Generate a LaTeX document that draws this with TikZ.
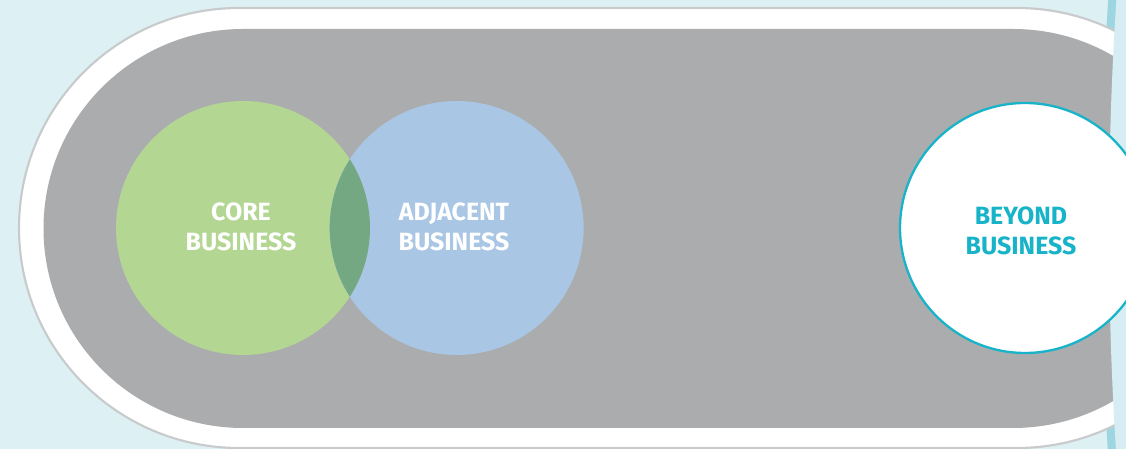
\documentclass[tikz,border=0pt]{standalone}
\usepackage{fontspec}
\usepackage{xcolor}
\usepackage{tikz}
\usetikzlibrary{positioning}
\newfontfamily\bubblefont{Fira Sans}

\definecolor{skyback}{HTML}{DDF0F4}
\definecolor{trackgrey}{HTML}{ABACAE}
\definecolor{rimgrey}{HTML}{C8CACC}
\definecolor{deepteal}{HTML}{9DD6E1}
\definecolor{paleteal}{HTML}{D6EDF3}
\definecolor{coregreen}{HTML}{B3D793}
\definecolor{adjblue}{HTML}{A9C6E4}
\definecolor{lensgreen}{HTML}{73A883}
\definecolor{beyondteal}{HTML}{17B3C9}

\tikzset{
  bubble/.style={circle, minimum size=5.08cm, inner sep=0pt, align=center,
    font=\bubblefont\bfseries\fontsize{14.2}{16.8}\selectfont},
}

\begin{document}
\begin{tikzpicture}[x=0.02cm, y=0.02cm]
			\useasboundingbox (0,0) rectangle (1126,449);
			\clip (0,0) rectangle (1126,449);

			% Background
			\fill[skyback] (0,0) rectangle (1126,449);
			\fill[deepteal] (1251,221) ellipse [x radius=150, y radius=744];

			% Track
			\filldraw[fill=white, draw=rimgrey, line width=1.2pt]
				(239,441) -- (1017,441) arc[start angle=90, end angle=-90, radius=220]
				-- (239,1) arc[start angle=270, end angle=90, radius=220] -- cycle;
			\fill[trackgrey]
				(243,420) -- (1013,420) arc[start angle=90, end angle=-90, radius=199.5]
				-- (243,21) arc[start angle=270, end angle=90, radius=199.5] -- cycle;
			\fill[paleteal] (1259,221) ellipse [x radius=150, y radius=734];

			% Nodes
			\node (core) [bubble, fill=coregreen] at (243,221) {};
			\node (adjacent) [bubble, fill=adjblue, right=-0.82cm of core] {};
			\begin{scope}
				\clip (core) circle [radius=2.54cm];
				\fill[lensgreen] (adjacent) circle [radius=2.54cm];
			\end{scope}
			\node (coretext) [bubble, text=white, minimum size=0pt] at (241,222) {CORE\\BUSINESS};
			\node (adjtext) [bubble, text=white, minimum size=0pt] at (454,222) {ADJACENT\\BUSINESS};
			\node (beyond) [bubble, draw=beyondteal, line width=1.3pt, fill=white,
				minimum size=5cm] at (1025,221) {};
			\node (beyondtext) [bubble, text=beyondteal, minimum size=0pt] at (1021,218) {BEYOND\\BUSINESS};

		\end{tikzpicture}
\end{document}
